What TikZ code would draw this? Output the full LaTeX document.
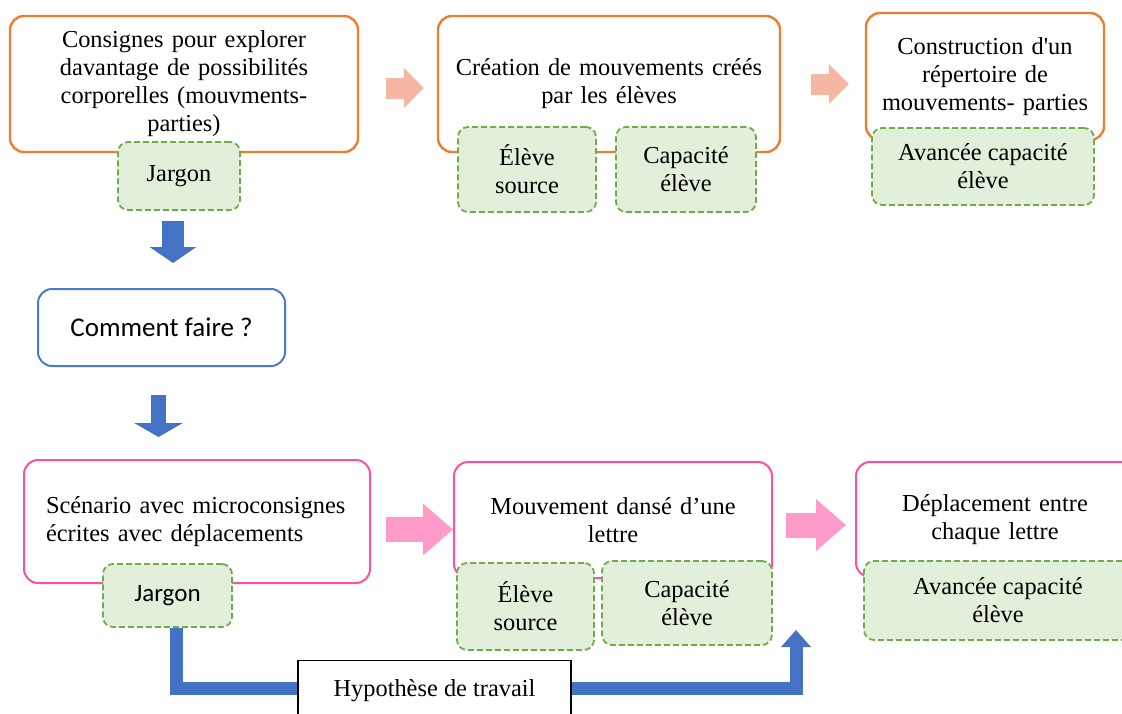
\documentclass[tikz,border=0pt]{standalone}
\usepackage{fontspec}
\setmainfont{Liberation Serif}
\newfontfamily\calibri{Carlito}
\usetikzlibrary{arrows.meta,positioning,calc}
\definecolor{phasec}{HTML}{ED7D31}
\definecolor{scenc}{HTML}{FF4FA0}
\definecolor{askc}{HTML}{4A7BCC}
\definecolor{flowc}{HTML}{4472C4}
\definecolor{softc}{HTML}{F5B7A3}
\definecolor{pinkc}{HTML}{FF9BC8}
\definecolor{tagfill}{HTML}{E2EFDA}
\definecolor{tagline}{HTML}{70AD47}

\begin{document}
\begin{tikzpicture}[
  x=1pt, y=-1pt,
  font=\fontsize{24.4}{28}\selectfont,
  box/.style={rectangle, rounded corners=14pt, fill=white, align=center, inner sep=3pt},
  phase/.style={box, draw=phasec, line width=2.4pt},
  scen/.style={box, draw=scenc, line width=2pt},
  ask/.style={box, draw=askc, line width=2pt, font=\calibri\fontsize{27}{30}\selectfont},
  tag/.style={rectangle, rounded corners=10pt, draw=tagline, fill=tagfill, line width=1.8pt,
              dash pattern=on 6pt off 3pt, align=center, inner sep=2pt},
  hyp/.style={rectangle, draw=black, line width=1.2pt, fill=white, align=center},
  softflow/.style={line width=21pt, draw=softc, -{Triangle[width=39pt, length=20pt]}},
  pinkflow/.style={line width=25pt, draw=pinkc, -{Triangle[width=50pt, length=30pt]}},
  downflow/.style={draw=flowc, -{Triangle[width=46pt, length=16pt]}},
]
\useasboundingbox (0,0) rectangle (1122,713);

% ---- exploration row ----
\node[phase, minimum width=348pt, minimum height=136pt, text width=320pt] (consignes) at (184,84)
  {Consignes pour explorer\\davantage de possibilités\\corporelles (mouvments-\\parties)};
\node[phase, minimum width=342pt, minimum height=136pt, text width=330pt] (creation) at (609,84)
  {Création de mouvements créés\\par les élèves};
\node[phase, minimum width=238pt, minimum height=127pt, text width=230pt] (repertoire) at (985,76.5)
  {Construction d\textquotesingle un\\répertoire de\\mouvements- parties};

\node[tag, minimum width=122pt, minimum height=68pt] (jargonA) at (179,176) {Jargon};
\node[tag, minimum width=138pt, minimum height=85pt] (sourceA) at (527,169.5) {Élève\\source};
\node[tag, minimum width=140pt, minimum height=85pt] (capaA) at (686,169.5) {Capacité\\élève};
\node[tag, minimum width=222pt, minimum height=77pt] (avanceA) at (983,166.5) {Avancée capacité\\élève};

% ---- question ----
\node[ask, minimum width=247pt, minimum height=77pt] (comment) at (161.5,327.5) {Comment faire ?};

% ---- scenario row ----
\node[scen, minimum width=346pt, minimum height=123pt, text width=302pt, align=left] (scenario) at (197,521.5)
  {Scénario avec microconsignes\\écrites avec déplacements};
\node[scen, minimum width=318pt, minimum height=116pt, text width=300pt] (lettre) at (613,520)
  {Mouvement dansé d’une\\lettre};
\node[scen, minimum width=278pt, minimum height=115pt, text width=260pt] (deplacement) at (995,519.5)
  {Déplacement entre\\chaque lettre};

\node[tag, minimum width=129pt, minimum height=63pt, font=\calibri\fontsize{25}{28}\selectfont] (jargonB) at (167.5,595.5) {Jargon};
\node[tag, minimum width=137pt, minimum height=87pt] (sourceB) at (525.5,606.5) {Élève\\source};
\node[tag, minimum width=170pt, minimum height=84pt] (capaB) at (687,603) {Capacité\\élève};
\node[tag, minimum width=268pt, minimum height=79pt] (avanceB) at (998,600.5) {Avancée capacité\\élève};

% ---- block arrows between steps ----
\draw[softflow, shorten <=27pt, shorten >=13pt]
  ([yshift=-4pt]consignes.east) -- ([yshift=-4pt]consignes.east -| creation.west);
\draw[softflow, shorten <=30pt, shorten >=16pt]
  (creation.east) -- (creation.east -| repertoire.west);
\draw[pinkflow, shorten <=15pt]
  ([yshift=-8pt]scenario.east) -- ([yshift=-8pt]scenario.east -| lettre.west);
\draw[pinkflow, shorten <=13pt, shorten >=9pt]
  ([yshift=-5pt]lettre.east) -- ([yshift=-5pt]lettre.east -| deplacement.west);

\draw[downflow, line width=22pt, shorten <=10pt, shorten >=25pt]
  ([xshift=-6pt]jargonA.south) -- ([xshift=-6pt]jargonA.south |- comment.north);
\draw[downflow, line width=15pt, -{Triangle[width=48pt, length=14pt]}, shorten <=28pt, shorten >=22pt]
  ([xshift=-3pt]comment.south) -- ([xshift=-3pt]comment.south |- scenario.north);

% ---- working hypothesis path ----
\coordinate (hypturn) at (796,688);
\coordinate (hyptip) at (796,630);
\draw[draw=flowc, line width=13pt, line join=miter, -{Triangle[width=29pt, length=17pt]}]
  ([xshift=9pt]jargonB.south) |- (hypturn) -- (hyptip);
\node[hyp, anchor=north, minimum width=273pt, minimum height=60pt] (hypothese) at (434.5,660)
  {Hypothèse de travail};
\end{tikzpicture}
\end{document}
